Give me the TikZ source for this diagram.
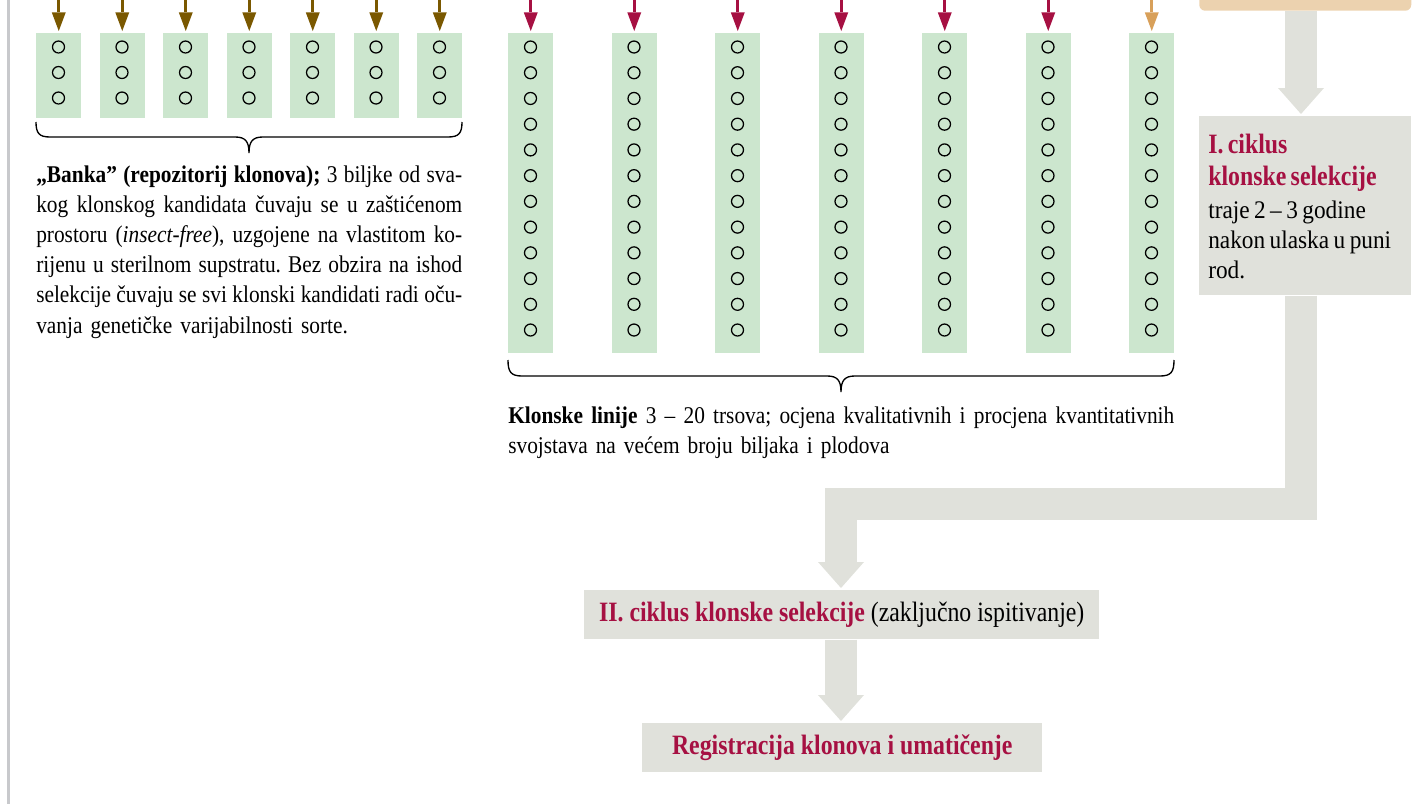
\documentclass[tikz,border=0pt]{standalone}
\usepackage{fontspec}
\setmainfont{Liberation Serif}[FakeStretch=0.89]
\newfontfamily\headfont{Liberation Serif}[FakeStretch=0.85]
\newfontfamily\boxfont{Liberation Serif}[FakeStretch=0.92]
\usetikzlibrary{arrows.meta}
\definecolor{grn}{RGB}{204,230,206}
\definecolor{gry}{RGB}{224,225,219}
\definecolor{crim}{RGB}{166,16,66}
\definecolor{brn}{RGB}{122,88,0}
\definecolor{orng}{RGB}{216,160,90}
\definecolor{tanbox}{RGB}{236,210,175}
\definecolor{bordergray}{RGB}{200,201,204}
\frenchspacing
\newcommand{\jl}[2]{\leavevmode\hbox to #1{\spaceskip=0.25em plus 1fil minus 0.08em\xspaceskip=0.25em plus 1fil minus 0.08em\relax #2}}
\begin{document}
\begin{tikzpicture}[x=0.75pt,y=-0.75pt,
  gbox/.style={fill=grn, draw=none, inner sep=0, minimum width=33.75pt, anchor=north west},
  smallbox/.style={gbox, minimum height=63.75pt},
  tallbox/.style={gbox, minimum height=240pt},
  plant/.style={circle, draw=black, line width=0.95pt, minimum size=9pt, inner sep=0},
  brownarr/.style={draw=brn, line width=2.25pt, -{Triangle[width=10.5pt,length=14pt,line width=0pt]}, shorten >=1.5pt},
  crimarr/.style={brownarr, draw=crim},
  orngarr/.style={brownarr, draw=orng},
  graybox/.style={fill=gry, draw=none, inner sep=0},
  blockarr/.style={draw=gry, line width=24pt, line join=miter, -{Triangle[width=34.5pt,length=19.5pt,line width=0pt]}, shorten >=1.5pt},
  bracepath/.style={draw=black, line width=1pt},
  body/.style={inner sep=0, font=\fontsize{18}{22.65}\selectfont},
  headtext/.style={font=\headfont\fontsize{21}{24}\selectfont},
]
\useasboundingbox (0,0) rectangle (1422,804);
\draw[draw=bordergray, line width=2.25pt] (8,0) -- (8,804);
\coordinate (top) at (0,0);

% small boxes (bank)
\foreach \i/\x in {1/36,2/99.5,3/163,4/226.5,5/290,6/353.5,7/417}{
  \node[smallbox] (s\i) at (\x,33) {};
  \foreach \k in {0,1,2}{
    \node[plant] (sp-\i-\k) at ({\x+22.5},{47+25.5*\k}) {};
  }
  \draw[brownarr] (s\i.north |- top) -- (s\i.north);
}

% tall boxes (clone lines)
\foreach \i/\x in {1/508,2/611.5,3/715,4/818.5,5/922,6/1025.5,7/1129}{
  \node[tallbox] (m\i) at (\x,33) {};
  \foreach \k in {0,...,11}{
    \node[plant] (mp-\i-\k) at ({\x+22.5},{47+25.73*\k}) {};
  }
}
\foreach \i in {1,...,6}{
  \draw[crimarr] (m\i.north |- top) -- (m\i.north);
}
\draw[orngarr] (m7.north |- top) -- (m7.north);

% braces
\draw[bracepath] (36,122) .. controls (36,133) and (39,137) .. (50,137) -- (235,137)
  .. controls (245,137) and (249,141) .. (249,153)
  .. controls (249,141) and (253,137) .. (263,137) -- (448,137)
  .. controls (459,137) and (462,133) .. (462,122);
\draw[bracepath] (508,360) .. controls (508,372) and (511,376) .. (522,376) -- (827,376)
  .. controls (837,376) and (841,380) .. (841,392)
  .. controls (841,380) and (845,376) .. (855,376) -- (1160,376)
  .. controls (1171,376) and (1174,372) .. (1174,360);

% texts
\node[body, anchor=base west, text width=319.5pt, align=left] (banka) at (36,182) {%
\jl{319.5pt}{\textbf{„Banka” (repozitorij klonova);} 3 biljke od sva-}\\
\jl{319.5pt}{kog klonskog kandidata čuvaju se u zaštićenom}\\
\jl{319.5pt}{prostoru (\textit{insect-free}), uzgojene na vlastitom ko-}\\
\jl{319.5pt}{rijenu u sterilnom supstratu. Bez obzira na ishod}\\
\jl{319.5pt}{selekcije čuvaju se svi klonski kandidati radi oču-}\\
vanja genetičke varijabilnosti sorte.};

\node[inner sep=0, font=\fontsize{18}{22.5}\selectfont, anchor=base west, text width=499.5pt, align=left] (klon) at (508,423) {%
\jl{499.5pt}{\textbf{Klonske linije} 3 – 20 trsova; ocjena kvalitativnih i procjena kvantitativnih}\\
svojstava na većem broju biljaka i plodova};

% right column
\node[fill=tanbox, draw=none, rounded corners=4.5pt, inner sep=0, minimum width=159pt, minimum height=30pt, anchor=south west] (src) at (1199,11) {};
\node[graybox, minimum width=159pt, minimum height=134.25pt, anchor=north west] (c1) at (1199,116) {};
\node[inner sep=0, anchor=base west, text width=150pt, align=left] (c1t) at (1208,153) {%
{\headfont\fontsize{21}{24}\selectfont\bfseries\color{crim}I. ciklus\\klonske selekcije\par}\vspace{2.25pt}%
{\boxfont\fontsize{19}{22.5}\selectfont traje 2 – 3 godine\\nakon ulaska u puni\\rod.\par}};

\node[graybox, headtext, minimum width=386.25pt, minimum height=36.75pt, anchor=north west] (c2) at (584,590)
  {\textcolor{crim}{\bfseries II. ciklus klonske selekcije} (zaključno ispitivanje)};
\node[graybox, headtext, minimum width=300pt, minimum height=36.75pt, anchor=north west, text=crim] (reg) at (642,723)
  {\bfseries Registracija klonova i umatičenje};

\coordinate (colx) at (1301,0);
\coordinate (midx) at (841,0);
\coordinate (elby) at (0,504);
\draw[blockarr] (src.south -| colx) -- (c1.north -| colx);
\draw[blockarr] (c1.south -| colx) -- (colx |- elby) -- (midx |- elby) -- (c2.north -| midx);
\draw[blockarr] (c2.south -| midx) -- (reg.north -| midx);
\end{tikzpicture}
\end{document}
